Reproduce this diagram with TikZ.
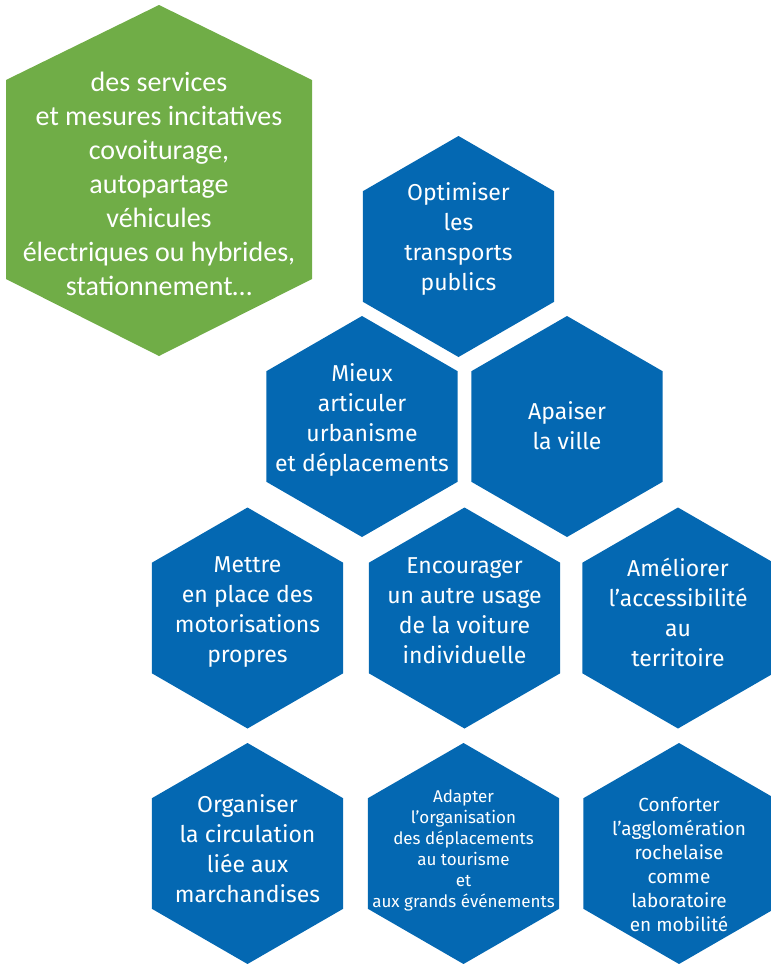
\documentclass[tikz,border=0pt]{standalone}
\usepackage{fontspec}
\setmainfont{Fira Sans}
\newfontfamily\vertfont{Carlito}
\usetikzlibrary{shapes.geometric}

\definecolor{bleu}{RGB}{4,104,178}
\definecolor{vert}{RGB}{112,173,71}

\tikzset{
  hexa/.style={regular polygon, regular polygon sides=6, shape border rotate=30,
    minimum size=221pt, inner sep=0pt, fill=bleu},
  txt/.style={text=white, align=center, inner sep=0pt, font=\fontsize{23}{30}\selectfont},
  txtmoyen/.style={txt, font=\fontsize{19}{24}\selectfont},
  txtpetit/.style={txt, font=\fontsize{17}{21}\selectfont},
  txtvert/.style={text=white, align=center, inner sep=0pt, font=\vertfont\fontsize{28}{34}\selectfont}
}

\begin{document}
\begin{tikzpicture}[x=1pt, y=-1pt]
    \useasboundingbox (0,0) rectangle (771,964);
    % hexagone vert
    \fill[vert] (159,5) -- (312,80) -- (312,279) -- (159,356) -- (6,279) -- (6,80) -- cycle;
    \node[txtvert] (services) at (159,184) {des services\\et mesures incitatives\\covoiturage,\\autopartage\\véhicules\\électriques ou hybrides,\\stationnement…};
    % hexagones bleus
    \node[hexa, label={[txt, yshift=8pt]center:{Optimiser\\les\\transports\\publics}}] (optimiser) at (458.5,246.5) {};
    \node[hexa, label={[txt, yshift=7pt]center:{Mieux\\articuler\\urbanisme\\et déplacements}}] (mieux) at (362,426.5) {};
    \node[hexa, label={[txt, yshift=1pt]center:{Apaiser\\la ville}}] (apaiser) at (567,426.5) {};
    \node[hexa, label={[txt, yshift=6pt]center:{Mettre\\en place des\\motorisations\\propres}}] (mettre) at (247.5,618) {};
    \node[hexa, label={[txt, yshift=7pt]center:{Encourager\\un autre usage\\de la voiture\\individuelle}}] (encourager) at (464.5,618) {};
    \node[hexa, label={[txt, yshift=6pt]center:{Améliorer\\l’accessibilité\\au\\territoire}}] (ameliorer) at (678,618) {};
    \node[hexa, label={[txt, yshift=5pt]center:{Organiser\\la circulation\\liée aux\\marchandises}}] (organiser) at (247.5,853.5) {};
    \node[hexa, label={[txtpetit, yshift=3pt]center:{Adapter\\l’organisation\\des déplacements\\au tourisme\\et\\aux grands événements}}] (adapter) at (463.5,853.5) {};
    \node[hexa, label={[txtmoyen, yshift=-11pt]center:{Conforter\\l’agglomération\\rochelaise\\comme\\laboratoire\\en mobilité}}] (conforter) at (679,853.5) {};
\end{tikzpicture}
\end{document}
